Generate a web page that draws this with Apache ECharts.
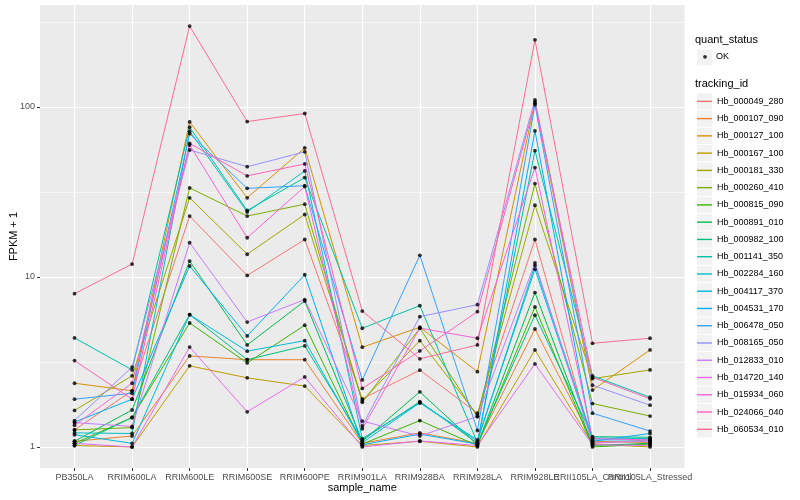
<!DOCTYPE html>
<html><head><meta charset="utf-8">
<script src="https://cdn.jsdelivr.net/npm/echarts@6/dist/echarts.min.js"></script>
<style>html,body{margin:0;padding:0;background:#fff}#c{width:800px;height:500px}</style>
</head><body><div id="c"></div>
<script>
// ---- data ----
const categories = ['PB350LA','RRIM600LA','RRIM600LE','RRIM600SE','RRIM600PE','RRIM901LA','RRIM928BA','RRIM928LA','RRIM928LE','RRII105LA_Control','RRII105LA_Stressed'];
const trackingIds = ['Hb_000049_280','Hb_000107_090','Hb_000127_100','Hb_000167_100','Hb_000181_330','Hb_000260_410','Hb_000815_090','Hb_000891_010','Hb_000982_100','Hb_001141_350','Hb_002284_160','Hb_004117_370','Hb_004531_170','Hb_006478_050','Hb_008165_050','Hb_012833_010','Hb_014720_140','Hb_015934_060','Hb_024066_040','Hb_060534_010'];
const yTickValues = [1, 10, 100];
const yTickLabels = ['1', '10', '100'];
const yMinorValues = [3.1623, 31.623, 316.23];

// FPKM + 1 per tracking_id, in category order
const hb_000049_280 = [1.26, 2.14, 22.8, 10.2, 16.6, 1.92, 2.83, 1.58, 16.6, 1.05, 1.10];
const hb_000107_090 = [1.08, 1.16, 3.43, 3.26, 3.26, 1.05, 1.21, 1.05, 4.94, 1.08, 1.06];
const hb_000127_100 = [2.37, 2.14, 81.6, 29.2, 57.4, 3.86, 5.06, 2.77, 107, 2.16, 3.72];
const hb_000167_100 = [1.02, 1.00, 3.00, 2.55, 2.28, 1.02, 1.08, 1.00, 3.72, 1.04, 1.00];
const hb_000181_330 = [1.64, 2.62, 29.2, 13.6, 23.3, 1.87, 4.22, 1.54, 26.4, 2.52, 2.84];
const hb_000260_410 = [1.26, 1.30, 33.4, 22.8, 26.8, 1.83, 4.99, 1.51, 35.4, 1.80, 1.52];
const hb_000815_090 = [1.05, 1.49, 5.36, 3.12, 5.20, 1.04, 1.43, 1.02, 6.66, 1.00, 1.04];
const hb_000891_010 = [1.08, 1.65, 12.4, 3.98, 7.22, 1.08, 2.11, 1.03, 8.09, 1.02, 1.05];
const hb_000982_100 = [1.02, 1.49, 6.00, 3.26, 3.93, 1.10, 1.85, 1.05, 5.96, 1.15, 1.14];
const hb_001141_350 = [4.38, 2.84, 76.0, 24.6, 38.4, 4.99, 6.78, 1.06, 55.3, 2.62, 1.96];
const hb_002284_160 = [1.21, 1.20, 72.0, 24.1, 42.0, 1.12, 1.82, 1.08, 11.7, 1.13, 1.12];
const hb_004117_370 = [1.18, 1.05, 6.00, 3.66, 4.22, 1.06, 1.82, 1.10, 11.1, 1.10, 1.10];
const hb_004531_170 = [1.40, 1.91, 11.6, 4.50, 10.3, 1.03, 1.19, 1.04, 72.3, 1.08, 1.20];
const hb_006478_050 = [1.91, 2.07, 69.6, 33.2, 34.4, 2.48, 13.4, 1.25, 103, 1.58, 1.24];
const hb_008165_050 = [1.43, 2.95, 55.8, 44.5, 54.4, 1.33, 5.84, 6.87, 110, 2.31, 1.76];
const hb_012833_010 = [1.39, 1.32, 15.9, 5.43, 7.36, 1.42, 1.16, 1.51, 12.1, 1.06, 1.08];
const hb_014720_140 = [1.05, 1.00, 3.87, 1.61, 2.58, 1.00, 1.085, 1.02, 3.08, 1.03, 1.02];
const hb_015934_060 = [1.34, 2.37, 59.7, 17.0, 34.0, 1.28, 5.00, 4.36, 44.0, 1.12, 1.10];
const hb_024066_040 = [3.22, 1.91, 61.0, 39.3, 46.2, 2.21, 3.67, 6.25, 105, 2.57, 1.92];
const hb_060534_010 = [7.97, 11.9, 299, 82.0, 91.5, 6.30, 3.30, 3.98, 248, 4.07, 4.36];

const seriesValues = [hb_000049_280, hb_000107_090, hb_000127_100, hb_000167_100, hb_000181_330,
  hb_000260_410, hb_000815_090, hb_000891_010, hb_000982_100, hb_001141_350, hb_002284_160,
  hb_004117_370, hb_004531_170, hb_006478_050, hb_008165_050, hb_012833_010, hb_014720_140,
  hb_015934_060, hb_024066_040, hb_060534_010];

// ---- styles ----
const palette = ['#F8766D','#EA8331','#D89000','#C09B00','#A3A500','#7CAE00','#39B600','#00BB4E','#00BF7D','#00C1A3','#00BFC4','#00BAE0','#00B0F6','#35A2FF','#9590FF','#C77CFF','#E76BF3','#FA62DB','#FF62BC','#FF6C91'];
const FONT = 'Liberation Sans, Arial, Helvetica, sans-serif';

const L = v => Math.log10(v);
let lo = Infinity, hi = -Infinity;
seriesValues.forEach(a => a.forEach(v => { lo = Math.min(lo, L(v)); hi = Math.max(hi, L(v)); }));
const pad = (hi - lo) * 0.05;
const catIdx = categories.map((c, i) => i);
const evenIdx = catIdx.filter(i => i % 2 === 0);
const oddIdx = catIdx.filter(i => i % 2 === 1);
const yMajor = yTickValues.map(L);

const lineSeries = seriesValues.map((vals, k) => ({
  type: 'line', name: trackingIds[k], xAxisIndex: 0, yAxisIndex: 0,
  data: vals.map((v, i) => [i, L(v)]),
  symbol: 'none', silent: true, animation: false,
  lineStyle: { color: palette[k], width: 1 }, itemStyle: { color: palette[k] },
  z: 2
}));
const pts = [];
seriesValues.forEach(vals => vals.forEach((v, i) => pts.push([i, L(v)])));
const pointSeries = {
  type: 'scatter', name: 'OK', data: pts, xAxisIndex: 0, yAxisIndex: 0,
  symbol: 'circle', symbolSize: 3.8, itemStyle: { color: '#000' }, silent: true, animation: false, z: 3
};

const keyRects = [];
keyRects.push({ type: 'rect', shape: { x: 697, y: 49.5, width: 15, height: 16 }, style: { fill: '#F2F2F2' }, z: 1 });
trackingIds.forEach((t, i) => keyRects.push({ type: 'rect', shape: { x: 697, y: 93.2 + i * 17.26, width: 15, height: 16.3 }, style: { fill: '#F2F2F2' }, z: 1 }));

const xLabelCommon = { formatter: v => categories[Math.round(v)], fontSize: 9, color: '#4D4D4D', margin: 5, fontFamily: FONT, hideOverlap: false, showMinLabel: true, showMaxLabel: true };

const chart = echarts.init(document.getElementById('c'), null, { renderer: 'canvas' });
chart.setOption({
  animation: false,
  backgroundColor: '#fff',
  textStyle: { fontFamily: FONT },
  title: [
    { text: 'quant_status', left: 695, top: 34, padding: 0, textStyle: { fontSize: 11, fontWeight: 'normal', color: '#000', fontFamily: FONT } },
    { text: 'tracking_id', left: 695, top: 78, padding: 0, textStyle: { fontSize: 11, fontWeight: 'normal', color: '#000', fontFamily: FONT } }
  ],
  grid: { left: 40, right: 115.4, top: 5, bottom: 32, show: true, backgroundColor: '#EBEBEB', borderWidth: 0, containLabel: false, outerBoundsMode: 'none' },
  xAxis: [{
    type: 'value', min: -0.6, max: categories.length - 1 + 0.6, position: 'bottom',
    name: 'sample_name', nameLocation: 'middle', nameGap: 14.5, nameMoveOverlap: false,
    nameTextStyle: { fontSize: 11, color: '#000', fontFamily: FONT },
    axisLine: { show: false, onZero: false },
    axisTick: { show: true, length: 3, lineStyle: { color: '#333', width: 1 }, customValues: catIdx },
    axisLabel: Object.assign({ customValues: evenIdx }, xLabelCommon),
    splitLine: { show: true, lineStyle: { color: '#fff', width: 1.2 } }
  }, {
    type: 'value', min: -0.6, max: categories.length - 1 + 0.6, position: 'bottom',
    axisLine: { show: false, onZero: false },
    axisTick: { show: false, customValues: oddIdx },
    axisLabel: Object.assign({ customValues: oddIdx }, xLabelCommon),
    splitLine: { show: false }
  }],
  yAxis: [{
    type: 'value', min: lo - pad, max: hi + pad, position: 'left',
    name: 'FPKM + 1', nameLocation: 'middle', nameGap: 21, nameRotate: 90, nameMoveOverlap: false,
    nameTextStyle: { fontSize: 11, color: '#000', fontFamily: FONT },
    axisLine: { show: false, onZero: false },
    axisTick: { show: true, length: 3, lineStyle: { color: '#333', width: 1 }, customValues: yMajor },
    axisLabel: { customValues: yMajor, formatter: v => yTickLabels[yMajor.findIndex(t => Math.abs(t - v) < 1e-6)], fontSize: 9, color: '#4D4D4D', margin: 5, fontFamily: FONT, showMinLabel: true, showMaxLabel: true },
    splitLine: { show: true, lineStyle: { color: '#fff', width: 1.2 } }
  }, {
    type: 'value', min: lo - pad, max: hi + pad, position: 'right',
    axisLine: { show: false, onZero: false },
    axisTick: { show: false, customValues: yMinorValues.map(L) },
    axisLabel: { show: false, customValues: yMinorValues.map(L) },
    splitLine: { show: true, lineStyle: { color: '#fff', width: 0.6 } }
  }],
  legend: [{
    data: ['OK'], left: 703.1, top: 52.3, itemWidth: 3.8, itemHeight: 3.8, icon: 'circle', selectedMode: false, padding: 0,
    textStyle: { fontSize: 9, color: '#000', fontFamily: FONT, padding: [0, 0, 0, 4] }, z: 5
  }, {
    data: trackingIds, orient: 'vertical', left: 697, top: 93.2, itemWidth: 15, itemHeight: 16.3, itemGap: 0.96,
    icon: 'path://M0,0H15V1.4H0Z', selectedMode: false, padding: 0,
    textStyle: { fontSize: 9, color: '#000', fontFamily: FONT, lineHeight: 16.3, height: 16.3 }, z: 5
  }],
  graphic: { elements: keyRects },
  series: [...lineSeries, pointSeries]
});
</script></body></html>
